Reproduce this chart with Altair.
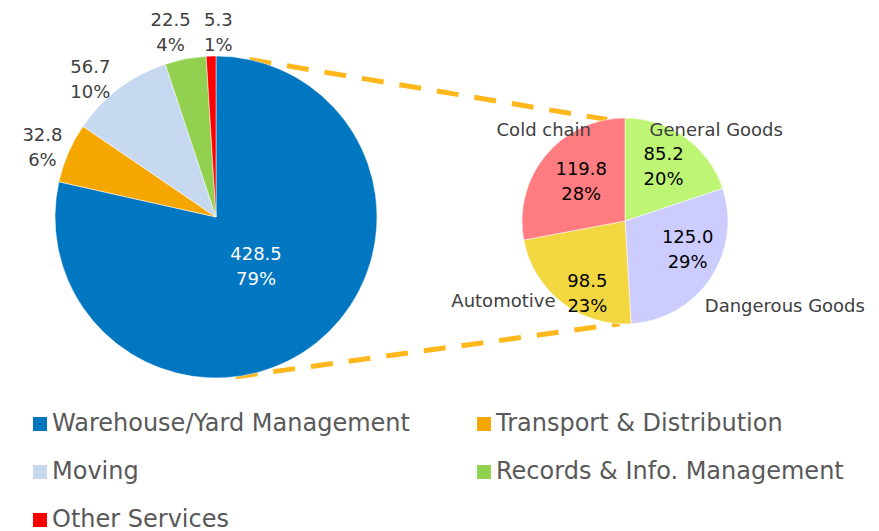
import math
import altair as alt
import pandas as pd

# ---------------- data ----------------
big_categories = [
    "Warehouse/Yard Management",
    "Transport & Distribution",
    "Moving",
    "Records & Info. Management",
    "Other Services",
]
big_values = [428.5, 32.8, 56.7, 22.5, 5.3]
big_colors = ["#0077C0", "#F5A700", "#C6D9F0", "#92D050", "#FF0000"]

small_categories = ["General Goods", "Dangerous Goods", "Automotive", "Cold chain"]
small_values = [85.2, 125.0, 98.5, 119.8]
small_colors = ["#BEF574", "#CCCCFF", "#F2D740", "#FF7C80"]

# legend is filled column by column: reorder so it reads row by row
legend_order = [0, 2, 4, 1, 3]
legend_domain = [big_categories[i] for i in legend_order]
legend_range = [big_colors[i] for i in legend_order]

# ---------------- layout ----------------
W, H = 863, 523
BIG_X, BIG_Y, BIG_R = 208, 209, 161
SM_X, SM_Y, SM_R = 617, 213, 103
FONT = "DejaVu Sans"
DASH = "#FFB71B"
LH = 25

big_df = pd.DataFrame({"category": big_categories, "value": big_values,
                       "idx": list(range(len(big_values)))})
small_df = pd.DataFrame({"category": small_categories, "value": small_values,
                         "idx": list(range(len(small_values)))})

label_expr = "format(datum.value, '.1f') + '\\n' + format(datum.value / datum.total, '.0%')"


def make_base(df, cx, cy):
    return (
        alt.Chart(df)
        .transform_joinaggregate(total="sum(value)")
        .transform_calculate(label=label_expr)
        .encode(
            theta=alt.Theta("value:Q", stack=True),
            order=alt.Order("idx:Q"),
            x=alt.value(cx),
            y=alt.value(cy),
        )
    )


def label_layer(base, idx, field, radius, dx, dy, color, align="center", two_lines=True):
    return base.mark_text(
        radius=radius, font=FONT, fontSize=18, color=color, lineBreak="\n",
        lineHeight=LH, align=align, baseline="middle",
        dx=dx, dy=dy - (LH / 2 if two_lines else 0),
    ).encode(text=alt.condition(f"datum.idx == {idx}", alt.Text(f"{field}:N"), alt.value("")))


big_base = make_base(big_df, BIG_X, BIG_Y)
small_base = make_base(small_df, SM_X, SM_Y)

big_arc = big_base.mark_arc(radius=BIG_R, stroke="white", strokeWidth=0.5).encode(
    color=alt.Color(
        "category:N",
        sort=legend_domain,
        scale=alt.Scale(domain=legend_domain, range=legend_range),
        legend=alt.Legend(
            title=None,
            orient="none",
            legendX=20,
            legendY=404,
            columns=2,
            symbolType="square",
            symbolSize=196,
            symbolStrokeWidth=0,
            labelFont=FONT,
            labelFontSize=24,
            labelColor="#595959",
            labelOffset=0,
            labelLimit=500,
            columnPadding=62,
            rowPadding=24,
            padding=0,
        ),
    )
)

big_labels = [
    label_layer(big_base, 0, "label", 64, 0, 1, "white"),
    label_layer(big_base, 1, "label", 187, -2, 6, "#404040"),
    label_layer(big_base, 2, "label", 187, -13, 13, "#404040"),
    label_layer(big_base, 3, "label", 187, -10, 0, "#404040"),
    label_layer(big_base, 4, "label", 187, 8, 3, "#404040"),
]

small_arc = small_base.mark_arc(radius=SM_R, stroke="white", strokeWidth=0.5).encode(
    color=alt.Color(
        "category:N",
        sort=small_categories,
        scale=alt.Scale(domain=small_categories, range=small_colors),
        legend=None,
    )
)

small_labels = [
    label_layer(small_base, 0, "label", 66, 0, 0, "black"),
    label_layer(small_base, 1, "label", 66, 8, -7, "black"),
    label_layer(small_base, 2, "label", 66, 3, 21, "black"),
    label_layer(small_base, 3, "label", 66, 7, 4, "black"),
    label_layer(small_base, 0, "category", 100, -34, -9, "#404040", "left", False),
    label_layer(small_base, 1, "category", 100, -3, 30, "#404040", "left", False),
    label_layer(small_base, 2, "category", 100, -8, 2, "#404040", "right", False),
    label_layer(small_base, 3, "category", 100, 43, -26, "#404040", "right", False),
]


# connector lines between the two pies
def on_circle(cx, cy, r, deg):
    a = math.radians(deg)
    return cx + r * math.sin(a), cy - r * math.cos(a)


ux1, uy1 = on_circle(BIG_X, BIG_Y, BIG_R, 12)
ux2, uy2 = on_circle(SM_X, SM_Y, SM_R, 350)
lx1, ly1 = on_circle(BIG_X, BIG_Y, BIG_R, 173)
lx2, ly2 = on_circle(SM_X, SM_Y, SM_R, 183)

one = pd.DataFrame({"k": [0]})
upper = alt.Chart(one).mark_rule(color=DASH, strokeWidth=5, strokeDash=[22, 16]).encode(
    x=alt.value(ux1), y=alt.value(uy1), x2=alt.value(ux2), y2=alt.value(uy2)
)
lower = alt.Chart(one).mark_rule(color=DASH, strokeWidth=5, strokeDash=[22, 16]).encode(
    x=alt.value(lx1), y=alt.value(ly1), x2=alt.value(lx2), y2=alt.value(ly2)
)

chart = (
    alt.layer(upper, lower, big_arc, *big_labels, small_arc, *small_labels)
    .resolve_scale(theta="independent", color="independent")
    .properties(width=W, height=H, padding=0, autosize=alt.AutoSizeParams(type="none"))
    .configure_view(stroke=None)
)

chart.save("out.html", embed_options={"renderer": "svg", "actions": False})
